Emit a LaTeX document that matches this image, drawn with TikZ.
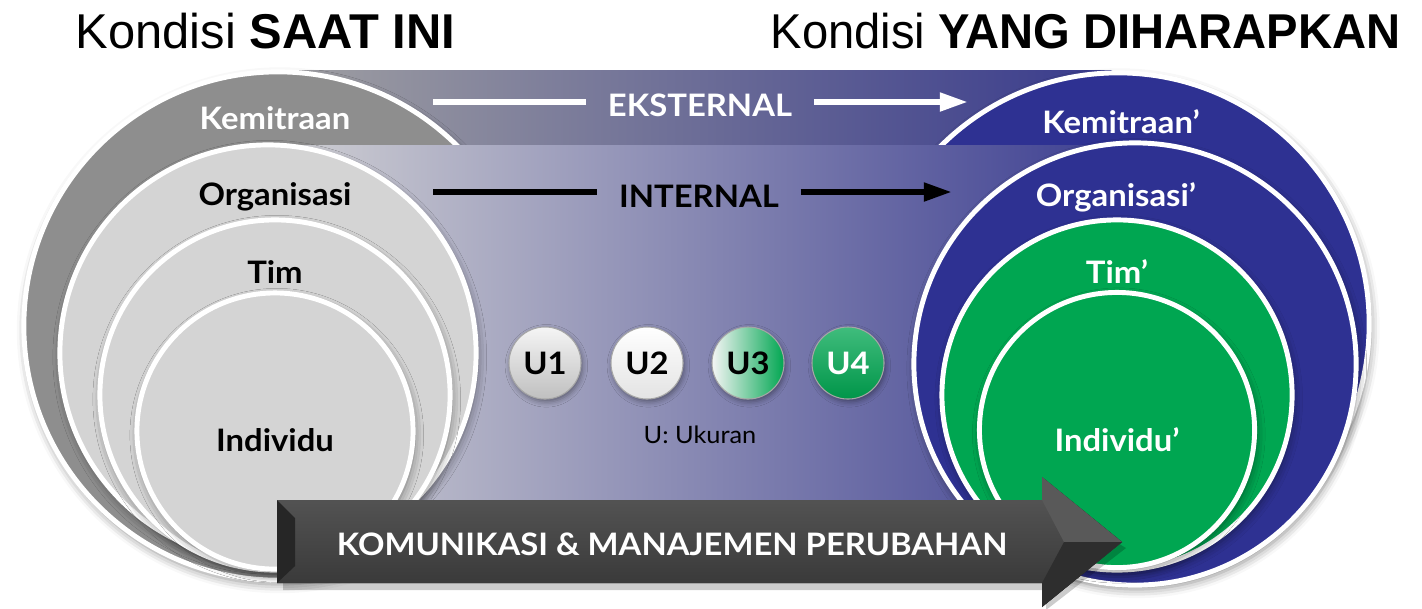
\documentclass[tikz,border=0pt]{standalone}
\usepackage{fontspec}
\setmainfont{Liberation Sans}
\newfontfamily\lblfont[FakeStretch=1.06]{Lato}
\usepackage{xcolor}
\usepackage{tikz}
\usetikzlibrary{calc}
\usetikzlibrary{arrows.meta}
\usetikzlibrary{shadows.blur}
\usetikzlibrary{positioning}
\definecolor{navy}{RGB}{46,49,146}
\definecolor{leaf}{RGB}{0,166,81}
\definecolor{stone}{RGB}{142,142,142}
\definecolor{mist}{RGB}{212,212,212}
\definecolor{extL}{RGB}{160,160,162}
\definecolor{extR}{RGB}{56,58,140}
\definecolor{intL}{RGB}{208,208,211}
\definecolor{intM}{RGB}{165,165,188}
\definecolor{intR}{RGB}{62,64,146}
\tikzstyle{title} = [anchor=base west,inner sep=0pt,font=\fontsize{13.9pt}{16pt}\selectfont]
\tikzstyle{ring} = [circle,draw=white,line width=1.4pt,inner sep=0pt,
	blur shadow={shadow xshift=0.5pt,shadow yshift=-1.2pt,shadow blur radius=2.5pt,shadow opacity=45}]
\tikzstyle{lbl} = [anchor=base,inner sep=0pt,font=\lblfont\bfseries\fontsize{8.8pt}{10pt}\selectfont]
\tikzstyle{ball} = [circle,minimum size=0.72cm,inner sep=0pt,draw=gray!70,line width=0.3pt,
	font=\lblfont\bfseries\fontsize{8.8pt}{10pt}\selectfont,
	blur shadow={shadow xshift=0.4pt,shadow yshift=-0.8pt,shadow blur radius=1.5pt,shadow opacity=40}]
\tikzstyle{flow} = [line width=1.7pt,-{Triangle[length=8pt,width=5pt]}]

\begin{document}
\begin{tikzpicture}[x=0.01cm,y=-0.01cm]
   \useasboundingbox (0,0) rectangle (1422,608);
   \node[title] (nowT) at (75,48) {Kondisi \textbf{SAAT INI}};
   \node[title] (goalT) at (770,48) {\scalebox{0.965}[1]{Kondisi \textbf{YANG DIHARAPKAN}}};

   \fill[left color=extL,right color=extR] (278,70) rectangle (1112,145);
   \node[ring,fill=stone,minimum size=5.08cm] (kem) at (278,326) {};
   \node[ring,fill=navy,minimum size=5.02cm] (kemB) at (1118,324) {};
   \fill[left color=intL,middle color=intM,right color=intR] (278,145) rectangle (1115,575);

   \node[ring,fill=mist,minimum size=4.16cm] (org) at (268,353) {};
   \node[ring,fill=mist,minimum size=3.50cm] (tim) at (275,395) {};
   \node[ring,fill=mist,minimum size=2.76cm] (ind) at (275,431) {};
   \node[ring,fill=navy,minimum size=4.42cm] (orgB) at (1135,364) {};
   \node[ring,fill=leaf,minimum size=3.50cm] (timB) at (1117,395) {};
   \node[ring,fill=leaf,minimum size=2.75cm] (indB) at (1117,430) {};

   \node[lbl,white] (kemL) at (275,129) {Kemitraan};
   \node[lbl] (orgL) at (275,205) {Organisasi};
   \node[lbl] (timL) at (275,283) {Tim};
   \node[lbl] (indL) at (275,451) {Individu};
   \node[lbl,white] (kemBL) at (1121,133) {Kemitraan’};
   \node[lbl,white] (orgBL) at (1116,206) {Organisasi’};
   \node[lbl,white] (timBL) at (1117,283) {Tim’};
   \node[lbl,white] (indBL) at (1117,451) {Individu’};

   \node[lbl,white,inner xsep=6pt] (ext) at (700,116) {EKSTERNAL};
   \node[lbl,inner xsep=6pt] (int) at (699,207) {INTERNAL};
   \coordinate (extA) at (433,102);
   \coordinate (extB) at (968,102);
   \coordinate (intA) at (433,192);
   \coordinate (intB) at (952,192);
   \draw[white,line width=1.7pt] (extA) -- (extA -| ext.west);
   \draw[white,flow] (extB -| ext.east) -- (extB);
   \draw[black,line width=1.7pt] (intA) -- (intA -| int.west);
   \draw[black,flow] (intB -| int.east) -- (intB);

   \node[ball,top color=gray!8,bottom color=gray!50] (u1) at (545,363) {U1};
   \node[ball,top color=white,bottom color=gray!22] (u2) at (647,363) {U2};
   \node[ball,left color=gray!8,middle color=white!85!leaf,right color=leaf] (u3) at (748,363) {U3};
   \node[ball,top color=leaf!75!white,bottom color=leaf!90!black,text=white] (u4) at (848,363) {U4};
   \node[anchor=base,inner sep=0pt,font=\lblfont\fontsize{6.8pt}{8pt}\selectfont] (uk) at (700,443) {U: Ukuran};

   \fill[black,opacity=0.2] (283,590) -- (1046,590) -- (1046,610) -- (1126,548) -- (1046,500) -- (283,500) -- cycle;
   \fill[top color=gray!70!black,middle color=black!75,bottom color=black!80] (277,500) -- (1042,500) -- (1042,477) -- (1122,542) -- (1042,607) -- (1042,583) -- (277,583) -- cycle;
   \fill[black!65] (1042,477) -- (1122,542) -- (1064,542) -- (1042,500) -- cycle;
   \fill[black!82] (1042,607) -- (1122,542) -- (1064,542) -- (1042,583) -- cycle;
   \fill[black!85] (277,500) -- (295,518) -- (295,566) -- (277,583) -- cycle;
   \node[lbl,white] (chg) at (672,555) {KOMUNIKASI \& MANAJEMEN PERUBAHAN};
\end{tikzpicture}
\end{document}
